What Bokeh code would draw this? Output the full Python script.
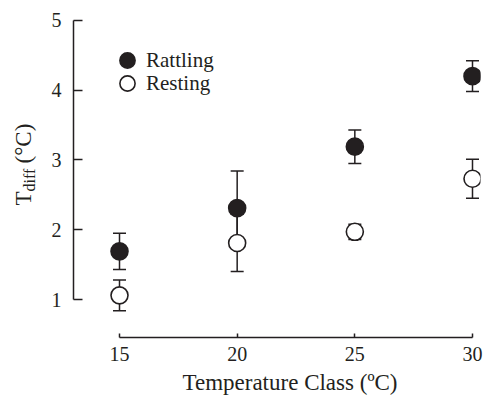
import math
from bokeh.plotting import figure
from bokeh.layouts import row
from bokeh.models import (ColumnDataSource, Range1d, FixedTicker, Whisker, TeeHead,
                          Label, Legend, LegendItem, Title)
from bokeh.embed import file_html
from bokeh.resources import INLINE

# ---- data ----
temp_class = [15, 20, 25, 30]
rattling_mean = [1.69, 2.31, 3.19, 4.20]
rattling_se = [0.26, 0.53, 0.24, 0.22]
resting_mean = [1.06, 1.81, 1.97, 2.73]
resting_se = [0.22, 0.41, 0.11, 0.28]
x_ticks = [15, 20, 25, 30]
y_ticks = [1, 2, 3, 4, 5]

FONT = "Liberation Serif"
INK = "#231f20"

rat = ColumnDataSource(dict(
    x=temp_class, y=rattling_mean,
    lo=[m - s for m, s in zip(rattling_mean, rattling_se)],
    hi=[m + s for m, s in zip(rattling_mean, rattling_se)]))
res = ColumnDataSource(dict(
    x=temp_class, y=resting_mean,
    lo=[m - s for m, s in zip(resting_mean, resting_se)],
    hi=[m + s for m, s in zip(resting_mean, resting_se)]))

# ---- main plot ----
p = figure(width=447, height=400, output_backend="svg", toolbar_location=None,
           x_range=Range1d(13.045, 30.34), y_range=Range1d(0.456, 5.069),
           min_border_left=33, min_border_right=7, min_border_top=15, min_border_bottom=63)
p.outline_line_color = None
p.xgrid.visible = False
p.ygrid.visible = False
p.background_fill_color = "white"

for ax, ticks, b in ((p.xaxis[0], x_ticks, (15, 30)), (p.yaxis[0], y_ticks, (1, 5))):
    ax.ticker = FixedTicker(ticks=ticks)
    ax.bounds = b
    ax.axis_line_width = 1.5
    ax.axis_line_color = INK
    ax.major_tick_line_color = INK
    ax.major_tick_line_width = 1.5
    ax.minor_tick_line_color = None
    ax.major_tick_out = 0
    ax.major_label_text_font = FONT
    ax.major_label_text_font_size = "20px"
    ax.major_label_text_color = INK

p.xaxis.major_tick_in = 4
p.xaxis.major_label_standoff = 9
p.yaxis.major_tick_in = 9
p.yaxis.major_label_standoff = 12

for src in (rat, res):
    w = Whisker(source=src, base="x", lower="lo", upper="hi", dimension="height",
                line_color=INK, line_width=1.5,
                upper_head=TeeHead(size=13, line_color=INK, line_width=1.5),
                lower_head=TeeHead(size=13, line_color=INK, line_width=1.5))
    p.add_layout(w)

r_res = p.scatter("x", "y", source=res, size=17, fill_color="white",
                  line_color=INK, line_width=1.6)
r_rat = p.scatter("x", "y", source=rat, size=17, fill_color=INK,
                  line_color=INK, line_width=1.6)

# legends (one item each so the rows sit close together)
for item_label, rend, loc in (("Rattling", r_rat, (35, 258)), ("Resting", r_res, (35, 235))):
    lg = Legend(items=[LegendItem(label=item_label, renderers=[rend])],
                location=loc, glyph_width=38, glyph_height=38, label_standoff=-6,
                padding=0, margin=0, border_line_color=None,
                background_fill_alpha=0, label_text_font=FONT,
                label_text_font_size="21px", label_text_color=INK)
    p.add_layout(lg, "center")

# x axis label
p.add_layout(Title(text="Temperature Class (ºC)", align="left", offset=109, standoff=9,
                   text_font=FONT, text_font_size="23px", text_font_style="normal",
                   text_color=INK), "below")

# ---- left strip holding the y axis label T_diff (°C) ----
# (its frame is aligned with the main plot frame: bottom at canvas y=337)
lf = figure(width=40, height=400, output_backend="svg", toolbar_location=None,
            x_range=Range1d(0, 40), y_range=Range1d(0, 400),
            x_axis_location=None, y_axis_location=None,
            min_border=0, min_border_left=0, min_border_right=0,
            min_border_top=0, min_border_bottom=0)
lf.outline_line_color = None
lf.xgrid.visible = False
lf.ygrid.visible = False
lf.add_layout(Label(x=35, y=132, x_units="screen", y_units="screen", angle=math.pi / 2,
                    text="T", text_font=FONT, text_font_size="23px", text_color=INK))
lf.add_layout(Label(x=37, y=146, x_units="screen", y_units="screen", angle=math.pi / 2,
                    text="diff", text_font=FONT, text_font_size="16px", text_color=INK))
lf.add_layout(Label(x=35, y=174, x_units="screen", y_units="screen", angle=math.pi / 2,
                    text="(°C)", text_font=FONT, text_font_size="23px", text_color=INK))

layout = row(lf, p, spacing=0)
open("out.html", "w").write(file_html(layout, INLINE))
